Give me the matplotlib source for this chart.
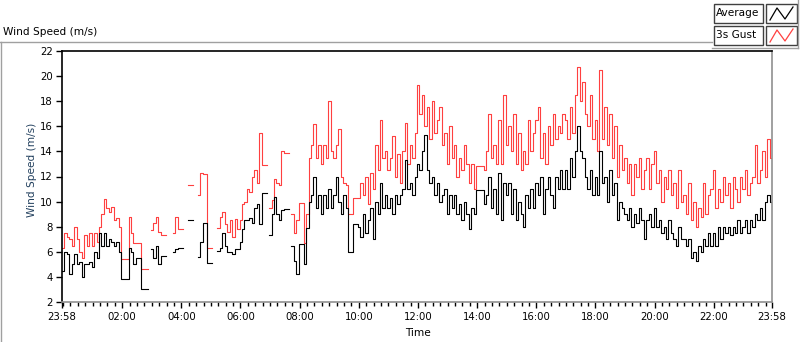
import numpy as np
import matplotlib.pyplot as plt
from matplotlib.lines import Line2D
from matplotlib.patches import Rectangle

nan = np.nan

# 5-minute samples starting at 23:58, one row per hour
avg_rows = [
    [4.5, 6.0, 5.8, 4.2, 5.0, 5.8, 5.0, 5.2, 4.0, 5.0, 5.0, 5.2],
    [4.8, 6.0, 5.5, 7.5, 6.5, 7.5, 6.5, 7.0, 6.8, 6.5, 6.8, 6.0],
    [3.8, 3.8, 3.8, 6.3, 6.0, 5.0, 5.5, 5.5, 3.0, 3.0, 3.0, nan],
    [6.2, 5.5, 6.5, 5.0, 5.7, 5.7, nan, nan, nan, 6.0, 6.2, 6.3],
    [6.3, nan, nan, 8.5, 8.5, nan, nan, 5.6, 6.8, 8.3, 8.3, 5.1],
    [5.1, nan, nan, 6.1, 6.3, 7.5, 6.5, 6.0, 6.0, 5.8, 6.2, 6.2],
    [6.8, 7.8, 8.5, 8.5, 8.7, 8.3, 9.5, 9.8, 8.2, 10.7, 10.7, nan],
    [7.3, 9.0, 10.4, 9.0, 8.5, 9.3, 9.4, 9.4, nan, 6.5, 5.3, 4.2],
    [6.6, 6.6, 5.0, 7.9, 10.0, 10.5, 12.0, 9.5, 10.5, 9.0, 10.5, 9.5],
    [11.0, 9.5, 10.5, 12.0, 10.0, 9.0, 10.5, 9.5, 6.0, 6.0, 8.2, 8.2],
    [8.0, 7.2, 9.0, 7.5, 8.5, 9.5, 7.0, 10.0, 9.0, 11.5, 9.5, 10.5],
    [9.5, 10.3, 9.0, 10.5, 9.8, 10.5, 11.0, 13.3, 11.0, 11.5, 10.5, 12.0],
    [13.0, 12.5, 14.0, 15.3, 12.5, 11.5, 12.0, 10.5, 11.5, 10.0, 10.5, 11.0],
    [9.0, 10.5, 9.5, 10.5, 9.0, 9.8, 8.5, 10.0, 9.0, 7.8, 9.5, 9.0],
    [10.9, 10.9, 10.9, 9.8, 10.5, 12.0, 9.5, 11.0, 9.0, 12.3, 8.5, 11.5],
    [10.5, 11.5, 9.0, 11.0, 8.5, 10.0, 9.0, 8.0, 10.5, 9.5, 11.0, 9.5],
    [11.5, 10.5, 12.0, 9.0, 11.0, 12.0, 10.5, 9.5, 12.0, 11.0, 12.5, 11.0],
    [12.5, 11.0, 13.5, 12.0, 14.0, 16.0, 14.0, 13.5, 12.0, 11.0, 12.5, 10.5],
    [12.0, 10.5, 14.0, 11.5, 12.0, 10.0, 12.5, 10.5, 11.5, 8.5, 10.0, 9.5],
    [9.0, 8.5, 9.5, 8.0, 9.0, 8.3, 9.5, 8.5, 7.0, 8.5, 9.0, 8.0],
    [9.5, 8.0, 8.5, 7.5, 8.0, 7.0, 8.5, 7.5, 7.0, 6.5, 8.0, 7.0],
    [7.0, 6.5, 7.0, 5.5, 6.0, 5.3, 6.5, 6.0, 7.0, 6.5, 7.5, 6.5],
    [7.5, 6.5, 8.0, 7.0, 8.0, 7.5, 8.0, 7.3, 8.0, 7.5, 8.5, 7.5],
    [8.0, 8.5, 7.5, 8.5, 8.0, 9.0, 8.5, 9.5, 8.5, 10.0, 10.5, 10.0],
]

gust_rows = [
    [6.3, 7.5, 7.2, 7.0, 6.5, 8.0, 7.0, 6.0, 5.5, 7.3, 6.5, 7.5],
    [6.5, 7.5, 6.8, 8.0, 9.0, 10.2, 9.5, 9.2, 9.6, 8.5, 8.7, 8.0],
    [5.4, 5.4, 5.4, 8.8, 7.5, 6.7, 6.7, 6.7, 4.6, 4.6, 4.6, nan],
    [7.7, 8.3, 8.8, 7.6, 7.3, 7.3, nan, nan, nan, 7.5, 8.8, 7.8],
    [7.8, nan, nan, 11.3, 11.3, nan, nan, 10.5, 12.3, 12.2, 12.2, 6.3],
    [6.3, nan, nan, 7.9, 8.8, 9.2, 8.2, 7.6, 8.5, 7.2, 8.6, 7.8],
    [8.5, 9.8, 10.0, 11.0, 10.8, 12.0, 12.5, 11.5, 15.5, 12.9, 12.9, nan],
    [9.5, 10.1, 11.8, 11.5, 11.3, 14.0, 13.9, 13.9, nan, 9.0, 7.5, 8.5],
    [9.9, 9.9, 6.7, 9.0, 13.5, 14.5, 16.2, 13.5, 14.5, 13.0, 14.5, 13.5],
    [18.0, 14.0, 13.5, 14.5, 15.8, 12.0, 11.5, 11.3, 9.0, 9.0, 10.3, 10.3],
    [10.3, 11.5, 10.5, 12.0, 9.8, 12.3, 11.0, 14.5, 12.5, 16.5, 13.5, 14.0],
    [12.5, 13.5, 15.2, 12.0, 13.8, 11.5, 14.0, 16.3, 13.0, 14.5, 13.5, 15.5],
    [19.3, 17.0, 18.5, 16.0, 17.5, 15.0, 18.0, 15.5, 16.5, 17.5, 14.5, 15.5],
    [13.0, 16.0, 13.5, 14.5, 12.0, 13.5, 12.5, 14.5, 13.0, 11.5, 13.0, 11.0],
    [12.8, 12.8, 12.8, 12.5, 14.0, 17.0, 13.5, 14.5, 13.0, 16.5, 13.0, 18.5],
    [14.5, 16.0, 14.0, 17.0, 13.0, 15.5, 12.5, 14.0, 13.0, 16.5, 14.0, 15.5],
    [16.5, 17.5, 13.5, 15.5, 13.0, 16.0, 14.5, 17.0, 15.0, 16.0, 15.5, 17.0],
    [16.5, 15.0, 17.5, 15.5, 18.5, 20.7, 18.0, 19.5, 17.0, 16.0, 18.5, 15.0],
    [16.5, 14.0, 20.5, 15.0, 17.5, 14.5, 17.0, 13.5, 16.0, 12.0, 14.5, 12.5],
    [13.5, 11.5, 13.0, 10.5, 13.0, 12.0, 13.5, 11.0, 12.5, 13.5, 11.0, 13.0],
    [14.0, 11.5, 12.5, 10.0, 12.0, 11.0, 12.5, 10.5, 11.5, 9.5, 12.5, 10.0],
    [10.5, 9.0, 11.5, 8.5, 10.0, 8.0, 9.5, 8.8, 11.5, 9.0, 10.5, 11.0],
    [12.5, 9.5, 11.0, 10.0, 12.0, 10.5, 11.5, 9.5, 12.0, 11.0, 10.0, 12.0],
    [11.0, 12.5, 10.5, 11.5, 12.0, 14.5, 11.5, 12.5, 14.0, 12.0, 15.0, 13.5],
]

tick_labels = ["23:58", "02:00", "04:00", "06:00", "08:00", "10:00", "12:00",
               "14:00", "16:00", "18:00", "20:00", "22:00", "23:58"]

avg = np.array(sum(avg_rows, []))
gust = np.array(sum(gust_rows, []))
minutes = np.arange(len(avg)) * 5
# close the last step at the right edge (23:58 next day)
minutes = np.append(minutes, 1440)
avg = np.append(avg, avg[-1])
gust = np.append(gust, gust[-1])

W, H = 800, 342
plt.rcParams["font.family"] = "DejaVu Sans"
fig = plt.figure(figsize=(W / 100, H / 100), dpi=100, facecolor="white")


def fx(x):
    return x / W


def fy(y):
    return 1 - y / H


frame_grey = "#a0a0a0"

# outer panel frame (top and left), legend frame corner
for (x0, y0, x1, y1) in [(0, 42, 712, 42), (1, 42, 1, 342),
                         (712, 48, 798, 48), (798, 0, 798, 48)]:
    fig.add_artist(Line2D([fx(x0), fx(x1)], [fy(y0), fy(y1)], color=frame_grey, lw=1.0))

fig.text(fx(3), fy(32), "Wind Speed (m/s)", fontsize=7.6, va="center", ha="left")

# legend boxes
for label, col, ytop in [("Average", "black", 4), ("3s Gust", "#ff4040", 26)]:
    fig.add_artist(Rectangle((fx(714), fy(ytop + 19)), fx(49), 19 / H,
                             facecolor="white", edgecolor="#404040", lw=1.0))
    fig.text(fx(716), fy(ytop + 9.5), label, fontsize=7.6, va="center", ha="left")
    fig.add_artist(Rectangle((fx(766), fy(ytop + 19)), fx(31), 19 / H,
                             facecolor="white", edgecolor="#404040", lw=1.0))
    fig.add_artist(Line2D([fx(770), fx(777), fx(785), fx(793)],
                          [fy(ytop + 16), fy(ytop + 4), fy(ytop + 15), fy(ytop + 3)],
                          color=col, lw=0.9))

ax = fig.add_axes([fx(62), fy(302), fx(772 - 62), (302 - 51) / H])
ax.plot(minutes, gust, drawstyle="steps-post", color="#ff4040", lw=0.8)
ax.plot(minutes, avg, drawstyle="steps-post", color="black", lw=0.8)

ax.set_xlim(0, 1440)
ax.set_ylim(2, 22)
ax.set_yticks(np.arange(2, 23, 2))

major = [0] + [122 + 120 * k for k in range(11)] + [1440]
ax.set_xticks(major)
ax.set_xticklabels(tick_labels)
minor = [c + 2 for c in range(0, 1438, 15) if c % 120 != 0 or c == 0]
ax.set_xticks(minor, minor=True)

for s in ["left", "top"]:
    ax.spines[s].set_color("black")
for s in ["right", "bottom"]:
    ax.spines[s].set_color("#909090")
for s in ax.spines.values():
    s.set_linewidth(1.2)

ax.tick_params(axis="both", which="major", direction="out", length=4.5, width=1,
               labelsize=7.3, pad=2, color="black")
ax.tick_params(axis="x", which="minor", direction="out", length=3, width=1, color="black")
ax.tick_params(axis="x", which="major", pad=3)

fig.text(fx(32), fy(170), "Wind Speed (m/s)", rotation=90, fontsize=7.6,
         va="center", ha="center", color="#22405e")
fig.text(fx(418), fy(333), "Time", fontsize=7.6, va="center", ha="center")

fig.savefig("out.png", dpi=100, facecolor="white")
